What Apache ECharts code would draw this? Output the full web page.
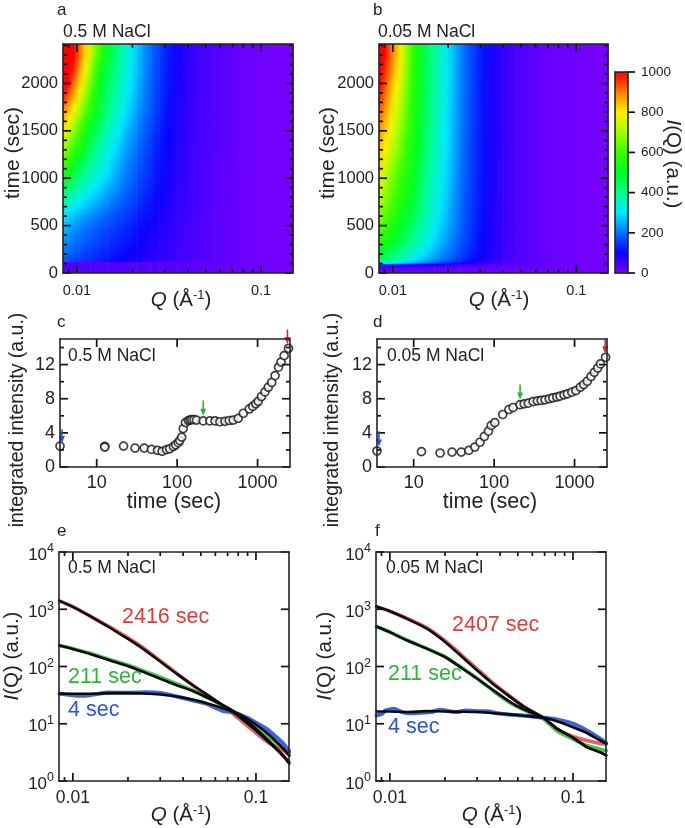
<!DOCTYPE html>
<html>
<head>
<meta charset="utf-8">
<style>
html,body{margin:0;padding:0;background:#fff;}
#chart{width:685px;height:828px;}
</style>
<script src="https://cdn.jsdelivr.net/npm/echarts@6/dist/echarts.min.js"></script>
</head>
<body>
<div id="chart"></div>
<script>
// heat maps: Q nodes, time edges, one row of I(Q) per time band (bottom to top)
var qGrid=[0.0084,0.009,0.0096,0.0103,0.011,0.0118,0.0127,0.0136,0.0146,0.0157,0.0168,0.018,0.0195,0.021,0.023,0.025,0.028,0.031,0.035,0.04,0.047,0.055,0.07,0.09,0.149];
var timeEdgesA=[0,115,160,220,300,400,500,600,700,800,900,1000,1125,1250,1375,1500,1650,1800,2000,2200,2416];
var heatA=[
[36,36,36,36,36,36,35,35,35,35,35,35,35,34,34,33,32,31,29,27,24,21,17,11,3],
[180,170,160,151,143,135,127,121,115,109,103,98,92,86,79,73,65,59,52,43,35,27,20,10,3],
[195,185,175,165,156,147,139,132,125,118,112,106,99,92,85,78,69,62,54,45,36,27,20,10,3],
[215,203,191,180,170,160,151,143,135,128,121,114,106,99,90,83,73,65,56,46,36,28,20,10,3],
[235,221,208,196,185,175,165,156,148,140,132,124,115,107,97,89,78,68,58,47,37,28,20,10,3],
[255,240,226,213,201,190,180,170,161,152,143,134,124,115,104,95,82,72,60,49,38,29,20,10,3],
[285,268,252,238,224,212,200,189,178,167,157,147,135,125,113,102,87,76,63,51,39,29,20,10,3],
[315,300,287,270,255,240,226,213,200,187,175,162,148,136,122,109,92,79,65,53,40,30,20,10,3],
[375,350,330,308,290,272,257,240,224,208,193,178,162,148,131,117,98,83,68,55,41,30,20,10,3],
[430,400,375,350,325,303,285,265,247,228,211,194,175,160,141,124,102,86,70,56,42,31,20,10,3],
[490,455,425,395,365,338,315,292,270,248,228,208,187,170,149,130,106,88,72,57,43,31,20,10,3],
[560,520,480,440,405,372,345,318,293,268,245,222,200,180,157,137,110,91,74,58,43,32,21,10,3],
[630,585,535,490,445,405,372,340,315,285,262,235,212,190,165,143,114,94,75,59,44,32,21,10,3],
[690,645,590,535,485,440,400,365,335,305,278,250,223,200,173,150,119,97,77,60,44,33,21,10,3],
[760,705,650,585,525,475,430,392,355,322,295,265,236,212,183,157,124,101,79,62,45,33,21,10,3],
[830,770,710,640,575,515,465,425,385,348,315,285,253,226,195,167,132,106,82,63,45,34,21,10,3],
[900,850,790,715,645,575,510,462,418,378,340,310,275,244,208,178,142,111,86,65,46,34,21,10,3],
[1000,940,870,790,710,625,535,480,435,395,360,328,292,258,218,185,147,114,88,67,48,35,21,10,3],
[1130,1040,950,860,775,680,570,505,455,415,380,345,305,270,228,193,152,118,91,69,49,35,21,10,3],
[1260,1130,1020,920,830,750,645,560,500,445,405,360,315,278,232,198,157,123,94,70,50,36,21,10,3]
];
var timeEdgesB=[0,60,75,90,110,150,220,320,450,600,800,1000,1200,1400,1600,1800,2000,2200,2416];
var heatB=[
[20,20,20,20,20,20,20,20,19,19,19,19,19,18,18,18,17,17,16,16,15,14,13,9,4],
[75,72,70,67,64,62,60,57,54,52,50,48,45,42,38,35,31,28,25,23,21,19,15,10,4],
[170,160,152,143,135,127,118,110,102,94,87,80,73,66,58,52,45,40,35,30,26,22,16,10,4],
[310,295,280,265,250,232,218,203,188,172,158,144,130,117,102,90,75,63,53,43,33,26,17,10,4],
[400,380,360,340,322,302,283,263,245,225,208,190,172,155,134,117,96,80,64,50,37,28,18,10,4],
[490,465,440,415,390,365,340,315,292,268,248,228,207,186,161,140,113,93,72,55,39,29,18,10,4],
[540,510,485,460,432,403,375,348,322,295,272,250,227,203,175,151,122,99,76,57,40,30,18,10,4],
[590,560,530,500,472,440,410,380,350,320,295,270,245,218,186,160,128,103,78,58,41,30,18,10,4],
[650,610,575,540,510,480,445,410,378,345,315,288,260,230,195,167,132,106,80,59,41,30,18,10,4],
[700,660,620,580,545,512,478,438,400,365,333,303,274,240,201,172,136,109,81,60,41,30,18,10,4],
[760,705,660,620,580,540,505,462,418,380,347,315,284,248,207,176,139,111,82,60,42,30,18,10,4],
[810,750,700,655,610,565,525,480,435,392,358,325,292,255,212,180,141,112,83,61,42,30,18,10,4],
[840,790,750,700,650,590,540,495,450,405,368,332,298,260,215,182,143,113,84,61,42,30,18,10,4],
[880,835,790,735,680,620,555,505,460,415,375,338,303,264,218,184,144,114,84,62,42,30,18,10,4],
[930,880,820,765,710,640,570,512,465,420,380,345,308,267,220,186,145,114,85,62,42,30,18,10,4],
[980,925,860,790,740,660,580,520,470,425,385,350,312,270,222,187,146,115,85,62,42,30,18,10,4],
[1030,965,895,830,770,675,590,528,475,428,388,352,315,273,224,188,147,116,85,62,42,30,18,10,4],
[1080,1000,930,860,790,690,600,535,480,430,390,355,318,275,225,190,148,117,85,62,42,30,18,10,4]
];
var colorLevels=[0,100,200,300,400,500,600,700,800,900,1000];
var colorStops=['#7a00ff','#0a00ff','#0070ff','#00e8ff','#00ff90','#00ff20','#38ff00','#a0ff00','#fff000','#ff8000','#ff0000'];

// integrated intensity vs time
var timeC=[3.5,12.6,12.6,21.6,30,39,48,57,65,74,81,90,96,103,108,114,119,127,138,145,152,162,174,211,255,296,340,393,445,498,575,665,790,870,950,1020,1120,1235,1360,1500,1650,1820,1960,2140,2420];
var intC=[2.45,2.42,2.34,2.45,2.22,2.22,2.06,1.95,1.83,2.03,2.14,2.4,2.6,2.85,3.1,3.5,4.5,5.2,5.45,5.5,5.55,5.55,5.5,5.4,5.4,5.4,5.3,5.35,5.45,5.5,5.7,6.3,6.8,7.1,7.4,7.7,8.25,8.8,9.35,9.9,10.7,11.7,12.3,13.05,13.9];
var timeD=[3.5,12.5,21.3,30,39,48.5,57.6,66.6,75.5,84.9,92,102,128,153,172,210,236,266,305,345,385,430,485,535,600,660,740,815,925,1040,1180,1300,1440,1600,1760,1940,2100,2430];
var intD=[1.87,1.8,1.64,1.75,1.75,1.95,2.34,2.9,3.58,4.2,4.87,5.2,6.15,6.74,6.97,7.3,7.4,7.48,7.67,7.75,7.8,7.87,8,8.1,8.2,8.3,8.45,8.57,8.77,8.96,9.35,9.66,10.05,10.6,11.1,11.6,12.08,12.86];
// arrows: time, top, tip
var arrowsC=[[3.7,4.4,2.8,'#2a55d8'],[211,7.8,6.0,'#22b83a'],[2350,16.1,14.4,'#e02828']];
var arrowsD=[[3.7,4.2,2.4,'#2a55d8'],[210,9.66,7.9,'#22b83a'],[2400,14.9,13.3,'#e02828']];

// I(Q) curves
var qCurve=[0.00845,0.01,0.01243,0.016,0.0201,0.0243,0.03,0.0369,0.0455,0.0538,0.0692,0.0818,0.1,0.119,0.141,0.152];
var fitE2416=[1400,1099,755,472,300,201,122,74.5,46.6,32.5,19,12.9,7.65,4.6,2.69,2];
var fitE211=[232,203,166,127,101,80,61,47,37,29,19.5,14,8.2,4.8,2.8,2.15];
var fitE4=[33.8,33.4,33.4,34.3,34.3,33.8,32.5,30,26.2,22.9,17.8,14.4,9.7,6.26,3.66,2.8];
var dataE2416=[1400,1113,760,485,315,210,126,76,46,32,18.3,11.8,6.9,4.5,3.4,2.8];
var dataE211=[232,205,170,132,105,84,65,50,38,29,19,14.2,8.8,5.6,3.8,3.2];
var qBlueE=[0.00845,0.0092,0.0108,0.01243,0.0155,0.0201,0.0248,0.03,0.0369,0.0455,0.0538,0.0665,0.075,0.09,0.1,0.114,0.129,0.141,0.152];
var dataE4=[33.4,32.5,30.7,31.6,35,34.8,35.6,34.6,30,25.5,22.3,16.6,16,12.7,10.4,8.2,5.86,4.48,3.3];

var fitF2407=[1113,923,678,454,266,156,85,48.5,29.2,20,12.7,8.2,5.7,3.92,3.16,2.8];
var fitF211=[499,398,284,203,145,97,61,38,23.9,17.8,12.7,8.2,5.7,3.92,3.16,2.8];
var fitF4=[16.4,16.4,16,16.6,16.4,16.2,16,15.3,14.6,13.8,12.7,11.1,8.7,6.9,5.1,4.5];
var dataF2407=[1113,923,690,470,280,165,90,50,30,20,12.5,8,6,5.1,4.5,4.4];
var dataF211=[499,400,288,205,148,99,62,37,23,17.5,12,7.5,5.4,4.2,3.6,3.4];
var qBlueF=[0.00846,0.00908,0.00947,0.0105,0.01167,0.01296,0.0147,0.01666,0.0189,0.021,0.0233,0.0259,0.03,0.034,0.0385,0.0455,0.0538,0.0692,0.0818,0.1,0.119,0.141,0.152];
var dataF4=[14,14.9,17.1,18.3,16,15.3,15.6,16,17.5,16.6,16,17.1,16.6,16.6,15.3,14.4,14,12.7,11.9,10,7.65,5.5,4.6];

// tick positions and labels
var qMajor=[0.01,0.1];
var qMinor=[0.009,0.02,0.03,0.04,0.05,0.06,0.07,0.08,0.09];
var timeMajor=[0,500,1000,1500,2000];
var timeMinor=[100,200,300,400,600,700,800,900,1100,1200,1300,1400,1600,1700,1800,1900,2100,2200,2300,2400];
var logTimeMajor=[10,100,1000];
var intMajor=[0,4,8,12];
var intMinor=[2,6,10,14];
var powMajor=[1,10,100,1000,10000];
var cbMajor=[0,200,400,600,800,1000];

var INK='#222';
var FONT='"Liberation Sans", Arial, sans-serif';
var RED='#e23a3a', GREEN='#2fb53a', BLUE='#2b52d6';

var grids=[], xAxes=[], yAxes=[], series=[], texts=[];

function oneAxis(gi,cfg,pos,label){
	var o={
		gridIndex:gi,type:cfg.type,position:pos,min:cfg.min,max:cfg.max,z:5,
		axisLine:{show:true,onZero:false,lineStyle:{color:INK,width:1.6}},
		axisTick:{show:false},splitLine:{show:false},minorTick:{show:false},
		axisLabel:{show:false}
	};
	if(cfg.type==='log')o.logBase=10;
	if(label){
		o.axisLabel={show:true,customValues:cfg.major,margin:cfg.margin,fontSize:cfg.fontSize,
			fontFamily:FONT,color:INK,hideOverlap:false,showMinLabel:true,showMaxLabel:true,
			formatter:cfg.formatter||function(v){return String(v);}};
		if(cfg.rich)o.axisLabel.rich=cfg.rich;
	}
	return o;
}

function tickLine(x1,y1,x2,y2){
	return {type:'line',shape:{x1:x1,y1:y1,x2:x2,y2:y2},style:{stroke:'#111',lineWidth:1.7}};
}

// short lines at axis values, on both opposite sides of the frame
function tickSeries(ax,xc,yc,dir,values,len,sides){
	return {
		type:'custom',xAxisIndex:ax.x,yAxisIndex:ax.y,silent:true,animation:false,z:4,clip:false,
		encode:{x:0,y:1},
		data:values.map(function(v){return dir==='x'?[v,yc.max]:[xc.max,v];}),
		renderItem:function(p,api){
			var v=dir==='x'?api.value(0):api.value(1), kids=[];
			var a=dir==='x'?api.coord([v,yc.min]):api.coord([xc.min,v]);
			var b=dir==='x'?api.coord([v,yc.max]):api.coord([xc.max,v]);
			if(dir==='x'){
				kids.push(tickLine(a[0],a[1],a[0],a[1]-len));
				kids.push(tickLine(b[0],b[1],b[0],b[1]+len));
			}else if(sides==='out'){
				kids.push(tickLine(b[0],b[1],b[0]+len,b[1]));
			}else{
				kids.push(tickLine(a[0],a[1],a[0]+len,a[1]));
				kids.push(tickLine(b[0],b[1],b[0]-len,b[1]));
			}
			return {type:'group',children:kids};
		}
	};
}

function addPanel(box,xc,yc){
	var gi=grids.length;
	grids.push({left:box[0],top:box[1],width:box[2],height:box[3],containLabel:false,show:false});
	var ax={x:xAxes.length,y:yAxes.length};
	xAxes.push(oneAxis(gi,xc,'bottom',true));
	xAxes.push(oneAxis(gi,xc,'top',false));
	yAxes.push(oneAxis(gi,yc,'left',true));
	yAxes.push(oneAxis(gi,yc,'right',false));
	series.push(tickSeries(ax,xc,yc,'x',xc.major,8));
	series.push(tickSeries(ax,xc,yc,'y',yc.major,8));
	if(xc.minor)series.push(tickSeries(ax,xc,yc,'x',xc.minor,4));
	if(yc.minor)series.push(tickSeries(ax,xc,yc,'y',yc.minor,4));
	return ax;
}

function heatColor(v){
	var t=Math.min(1,Math.max(0,v/colorLevels[colorLevels.length-1]));
	return echarts.color.lerp(t,colorStops);
}

// sharpRow: row index below which the band edge stays hard
function heatSeries(ax,edges,table,sharpRow){
	var rows=[];
	table.forEach(function(row,r){
		for(var c=0;c<qGrid.length-1;c++){
			rows.push([qGrid[c],qGrid[c+1],edges[r],edges[r+1],r,c]);
		}
	});
	function shade(r,c,f){
		var own=table[r][c], nb=f<0.5?r-1:r+1, w=Math.abs(f-0.5);
		if(nb<0||nb>=table.length)return own;
		if((f<0.5&&r===sharpRow)||(f>=0.5&&r===sharpRow-1))return own;
		return own+(table[nb][c]-own)*w;
	}
	return {
		type:'custom',xAxisIndex:ax.x,yAxisIndex:ax.y,silent:true,animation:false,z:1,
		encode:{x:[0,1],y:[2,3]},data:rows,
		renderItem:function(p,api){
			var a=api.coord([api.value(0),api.value(2)]);
			var b=api.coord([api.value(1),api.value(3)]);
			var r=api.value(4), c=api.value(5), h=a[1]-b[1];
			var n=Math.max(1,Math.round(h/2)), kids=[];
			for(var k=0;k<n;k++){
				var f=(k+0.5)/n;
				var y0=Math.round(a[1]-h*(k+1)/n), y1=Math.round(a[1]-h*k/n);
				kids.push({type:'rect',
					shape:{x:a[0],y:y0,width:b[0]-a[0]+0.6,height:y1-y0},
					style:{fill:new echarts.graphic.LinearGradient(0,0,1,0,[
						{offset:0,color:heatColor(shade(r,c,f))},
						{offset:1,color:heatColor(shade(r,c+1,f))}])}});
			}
			return {type:'group',children:kids};
		}
	};
}

function colorbarSeries(ax){
	var rows=[];
	for(var i=0;i<colorLevels.length-1;i++)rows.push([0,1,colorLevels[i],colorLevels[i+1],colorStops[i],colorStops[i+1]]);
	return {
		type:'custom',xAxisIndex:ax.x,yAxisIndex:ax.y,silent:true,animation:false,z:1,
		encode:{x:[0,1],y:[2,3]},data:rows,
		renderItem:function(p,api){
			var a=api.coord([api.value(0),api.value(2)]);
			var b=api.coord([api.value(1),api.value(3)]);
			var r=rows[p.dataIndex];
			return {type:'rect',
				shape:{x:a[0],y:b[1],width:b[0]-a[0],height:a[1]-b[1]+0.5},
				style:{fill:new echarts.graphic.LinearGradient(0,1,0,0,[{offset:0,color:r[4]},{offset:1,color:r[5]}])}};
		}
	};
}

function circleSeries(ax,xs,ys){
	return {type:'scatter',xAxisIndex:ax.x,yAxisIndex:ax.y,clip:false,animation:false,z:3,
		symbol:'circle',symbolSize:8,
		itemStyle:{color:'#fff',borderColor:'#111',borderWidth:1.7},
		data:xs.map(function(t,i){return [t,ys[i]];})};
}

function arrowSeries(ax,list){
	return {type:'custom',xAxisIndex:ax.x,yAxisIndex:ax.y,clip:false,animation:false,z:4,silent:true,
		data:list.map(function(a){return [a[0],a[1],a[2]];}),encode:{x:0,y:[1,2]},
		renderItem:function(p,api){
			var top=api.coord([api.value(0),api.value(1)]);
			var tip=api.coord([api.value(0),api.value(2)]);
			var col=list[p.dataIndex][3];
			return {type:'group',children:[
				{type:'line',shape:{x1:top[0],y1:top[1],x2:tip[0],y2:tip[1]-5},style:{stroke:col,lineWidth:1.6}},
				{type:'polygon',shape:{points:[[tip[0]-3,tip[1]-7],[tip[0]+3,tip[1]-7],[tip[0],tip[1]]]},style:{fill:col}}
			]};
		}
	};
}

function lineSeries(ax,qs,vals,color,width,z,opacity){
	return {type:'line',xAxisIndex:ax.x,yAxisIndex:ax.y,animation:false,silent:true,smooth:0.15,
		showSymbol:false,z:z,clip:true,
		lineStyle:{color:color,width:width,opacity:opacity||1,cap:'round'},
		data:qs.map(function(q,i){return [q,vals[i]];})};
}

function addText(x,y,text,size,opts){
	opts=opts||{};
	texts.push({type:'text',x:x,y:y,rotation:opts.rot||0,z:20,silent:true,
		style:{text:text,fontSize:size,fontFamily:FONT,fill:opts.color||INK,
			align:opts.align||'center',verticalAlign:'middle',
			rich:opts.rich}});
}

var smallQ={type:'log',min:0.0084,max:0.149,major:qMajor,minor:qMinor,fontSize:14.5,margin:10};
var bigQ={type:'log',min:0.0084,max:0.1515,major:qMajor,minor:qMinor,fontSize:17.5,margin:8};
var timeAxis={type:'value',min:0,max:2416,major:timeMajor,minor:timeMinor,fontSize:16.5,margin:5};
var logTime={type:'log',min:3.5,max:2530,major:logTimeMajor,fontSize:18,margin:7};
var intAxis={type:'value',min:0,max:15,major:intMajor,minor:intMinor,fontSize:18,margin:5};
var powAxis={type:'log',min:1,max:10000,major:powMajor,fontSize:16.5,margin:5,
	rich:{b:{fontSize:17,fontFamily:FONT,color:INK,padding:[6,0,0,0]},e:{fontSize:12.5,fontFamily:FONT,color:INK,padding:[0,0,6,0]}},
	formatter:function(v){return '{b|10}{e|'+Math.round(Math.log(v)/Math.LN10)+'}';}};

// a, b
var pa=addPanel([63,44,230,229],smallQ,timeAxis);
var pb=addPanel([379,44,229,229],smallQ,timeAxis);
series.push(heatSeries(pa,timeEdgesA,heatA,1));
series.push(heatSeries(pb,timeEdgesB,heatB,-1));

// colour bar
var cbX={type:'value',min:0,max:1,major:[],fontSize:10,margin:5};
var cbY={type:'value',min:0,max:1000,major:cbMajor,fontSize:13.5,margin:13};
var gi=grids.length;
grids.push({left:615,top:72,width:13,height:201,show:false});
var pcb={x:xAxes.length,y:yAxes.length};
xAxes.push(oneAxis(gi,cbX,'bottom',false));
xAxes.push(oneAxis(gi,cbX,'top',false));
yAxes.push(oneAxis(gi,cbY,'right',true));
yAxes.push(oneAxis(gi,cbY,'left',false));
series.push(colorbarSeries(pcb));
series.push(tickSeries(pcb,cbX,cbY,'y',cbMajor,7,'out'));

// c, d
var pc=addPanel([60,339,230,128],logTime,intAxis);
var pd=addPanel([377,339,230,128],logTime,intAxis);
series.push(circleSeries(pc,timeC,intC));
series.push(circleSeries(pd,timeD,intD));
series.push(arrowSeries(pc,arrowsC));
series.push(arrowSeries(pd,arrowsD));

// e, f
var pe=addPanel([59,552,230,229],bigQ,powAxis);
var pf=addPanel([376,552,230,229],bigQ,powAxis);
series.push(lineSeries(pe,qCurve,dataE2416,RED,3.6,2,0.8));
series.push(lineSeries(pe,qCurve,dataE211,GREEN,3.6,2,0.85));
series.push(lineSeries(pe,qBlueE,dataE4,BLUE,4,2,0.9));
series.push(lineSeries(pe,qCurve,fitE2416,'#0a0a0a',2.6,3));
series.push(lineSeries(pe,qCurve,fitE211,'#0a0a0a',2.6,3));
series.push(lineSeries(pe,qCurve,fitE4,'#0a0a0a',2.6,3));
series.push(lineSeries(pf,qCurve,dataF2407,RED,3.6,2,0.8));
series.push(lineSeries(pf,qCurve,dataF211,GREEN,3.6,2,0.85));
series.push(lineSeries(pf,qBlueF,dataF4,BLUE,4,2,0.9));
series.push(lineSeries(pf,qCurve,fitF2407,'#0a0a0a',2.6,3));
series.push(lineSeries(pf,qCurve,fitF211,'#0a0a0a',2.6,3));
series.push(lineSeries(pf,qCurve,fitF4,'#0a0a0a',2.6,3));

// panel letters and notes
var L={align:'left'};
addText(57,10,'a',17,L);addText(373,10,'b',17,L);
addText(57,322,'c',17,L);addText(373,322,'d',17,L);
addText(57,531,'e',17,L);addText(375,531,'f',17,L);
addText(63,32,'0.5 M NaCl',17.5,L);addText(378,32,'0.05 M NaCl',17.5,L);
addText(68,356,'0.5 M NaCl',17.5,L);addText(387,356,'0.05 M NaCl',17.5,L);
addText(68,568,'0.5 M NaCl',17.5,L);addText(386,568,'0.05 M NaCl',17.5,L);

// axis titles
var UP=Math.PI/2;
var qRich={i:{fontStyle:'italic',fontSize:20.5,fontFamily:FONT,color:INK},t:{fontSize:20.5,fontFamily:FONT,color:INK},s:{fontSize:13,fontFamily:FONT,color:INK,padding:[0,0,9,0]}};
var iRich={i:{fontStyle:'italic',fontSize:20.5,fontFamily:FONT,color:INK},t:{fontSize:20.5,fontFamily:FONT,color:INK}};
addText(181,300,'{i|Q}{t| (Å}{s|-1}{t|)}',20.5,{rich:qRich});
addText(499,300,'{i|Q}{t| (Å}{s|-1}{t|)}',20.5,{rich:qRich});
addText(181,815,'{i|Q}{t| (Å}{s|-1}{t|)}',20.5,{rich:qRich});
addText(492,815,'{i|Q}{t| (Å}{s|-1}{t|)}',20.5,{rich:qRich});
addText(13,153,'time (sec)',21,{rot:UP});
addText(328,153,'time (sec)',21,{rot:UP});
addText(174,502,'time (sec)',21.5,{});
addText(490,502,'time (sec)',21.5,{});
addText(18,420,'integrated intensity (a.u.)',19.5,{rot:UP});
addText(333,420,'integrated intensity (a.u.)',19.5,{rot:UP});
addText(12,656,'{i|I}{t|(Q) (a.u.)}',20.5,{rot:UP,rich:iRich});
addText(325,656,'{i|I}{t|(Q) (a.u.)}',20.5,{rot:UP,rich:iRich});
addText(673,164,'{i|I}{t|(Q) (a.u.)}',20.5,{rot:-UP,rich:iRich});

// curve labels
addText(122,617,'2416 sec',21.5,{align:'left',color:RED});
addText(68,677,'211 sec',21.5,{align:'left',color:GREEN});
addText(68,710,'4 sec',21.5,{align:'left',color:BLUE});
addText(452,625,'2407 sec',21.5,{align:'left',color:RED});
addText(388,674,'211 sec',21.5,{align:'left',color:GREEN});
addText(388,727,'4 sec',21.5,{align:'left',color:BLUE});

var chart=echarts.init(document.getElementById('chart'),null,{renderer:'canvas'});
chart.setOption({
	animation:false,
	backgroundColor:'#fff',
	textStyle:{fontFamily:FONT},
	grid:grids,xAxis:xAxes,yAxis:yAxes,series:series,
	graphic:{elements:texts}
});
</script>
</body>
</html>
